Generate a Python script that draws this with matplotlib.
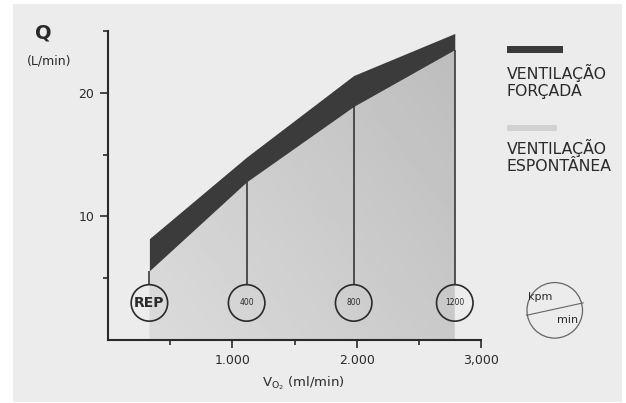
import numpy as np
import matplotlib.pyplot as plt
from matplotlib.patches import Rectangle

# VO2 (ml/min) at each workload and cardiac output Q (L/min)
vo2 = [333, 1115, 1976, 2789]
carga = ["REP", "400", "800", "1200"]
q_forcada = [8.2, 14.8, 21.4, 24.8]
q_espontanea = [5.6, 12.8, 18.9, 23.5]

x_ticks = [1000, 2000, 3000]
x_ticklabels = ["1.000", "2.000", "3,000"]
y_ticks = [10, 20]

W, H = 626, 403
BG = "#ececec"
DARK = "#3b3b3b"
INK = "#2a2a2a"

fig = plt.figure(figsize=(W / 100, H / 100), dpi=100, facecolor="white")
fig.add_artist(Rectangle((13 / W, 1 - 402 / H), 609 / W, 398 / H,
                         transform=fig.transFigure, color=BG, lw=0, zorder=-10))

ax = fig.add_axes([108 / W, 1 - 340 / H, 373 / W, 309 / H])
ax.set_facecolor("none")

# spontaneous area: shaded, lighter towards the lower left
area = ax.fill_between(vo2, 0, q_espontanea, color="none", lw=0, zorder=1)
gx, gy = np.meshgrid(np.linspace(0, 1, 200), np.linspace(0, 1, 200))
shade = 0.86 - 0.07 * gx - 0.05 * gy
im = ax.imshow(shade, cmap="gray", vmin=0, vmax=1, origin="lower",
               extent=[vo2[0], vo2[-1], 0, max(q_espontanea)],
               aspect="auto", zorder=1, interpolation="bilinear")
im.set_clip_path(area.get_paths()[0], transform=ax.transData)
ax.set_xlim(0, 3000)
ax.set_ylim(0, 25)

# forced ventilation band
ax.fill_between(vo2, q_espontanea, q_forcada, color=DARK, lw=0, zorder=2)

# workload markers
cy = 3.0
ctop = cy + 1.45
ax.vlines(vo2, ctop, q_espontanea, color=INK, lw=1.1, zorder=3)
ax.scatter(vo2, [cy] * len(vo2), s=690, facecolors="none",
           edgecolors=INK, lw=1.2, zorder=4)
for x, lab in zip(vo2, carga):
    if lab == "REP":
        ax.text(x, cy, lab, ha="center", va="center", fontsize=10,
                fontweight="bold", color=INK, zorder=5)
    else:
        ax.text(x, cy, lab, ha="center", va="center", fontsize=5.5,
                color=INK, zorder=5)

# kpm/min key circle
ax.scatter([3593], [2.4], s=1600, facecolors="none", edgecolors="#666666",
           lw=0.9, clip_on=False)
ax.plot([3366, 3821], [2.0, 3.0], color="#666666", lw=0.8, clip_on=False)
ax.text(3480, 3.5, "kpm", ha="center", va="center", fontsize=8,
        color=INK, clip_on=False)
ax.text(3700, 1.6, "min", ha="center", va="center", fontsize=8,
        color=INK, clip_on=False)

# axes
for s in ["top", "right"]:
    ax.spines[s].set_visible(False)
for s in ["left", "bottom"]:
    ax.spines[s].set_color(INK)
    ax.spines[s].set_linewidth(1.5)

ax.set_xticks(x_ticks)
ax.set_xticklabels(x_ticklabels)
ax.set_xticks([500, 1500, 2500], minor=True)
ax.set_yticks(y_ticks)
ax.set_yticks([5, 15, 25], minor=True)
ax.tick_params(which="major", direction="out", length=6, width=1.2,
               color=INK, labelcolor=INK, labelsize=9, pad=4)
ax.tick_params(which="minor", direction="out", length=3.5, width=1.2,
               color=INK)

fig.text(43 / W, 1 - 33 / H, "Q", ha="center", va="center", fontsize=14,
         fontweight="bold", color=INK)
fig.text(49 / W, 1 - 61 / H, "(L/min)", ha="center", va="center",
         fontsize=9, color=INK)
fig.text(262 / W, 1 - 386 / H, r"$\mathregular{V_{O_2}}$ (ml/min)",
         ha="left", va="baseline", fontsize=9.5, color=INK)

# legend
fig.add_artist(Rectangle((507 / W, 1 - 53 / H), 56 / W, 7 / H,
                         transform=fig.transFigure, color=DARK, lw=0))
fig.add_artist(Rectangle((507 / W, 1 - 131 / H), 50 / W, 6 / H,
                         transform=fig.transFigure, color="#d2d2d2", lw=0))
for y, txt in [(79, "VENTILAÇÃO"), (96, "FORÇADA"),
               (154, "VENTILAÇÃO"), (171, "ESPONTÂNEA")]:
    fig.text(507 / W, 1 - y / H, txt, ha="left", va="baseline",
             fontsize=11.3, color=INK)

fig.savefig("out.png", dpi=100, facecolor=fig.get_facecolor())
